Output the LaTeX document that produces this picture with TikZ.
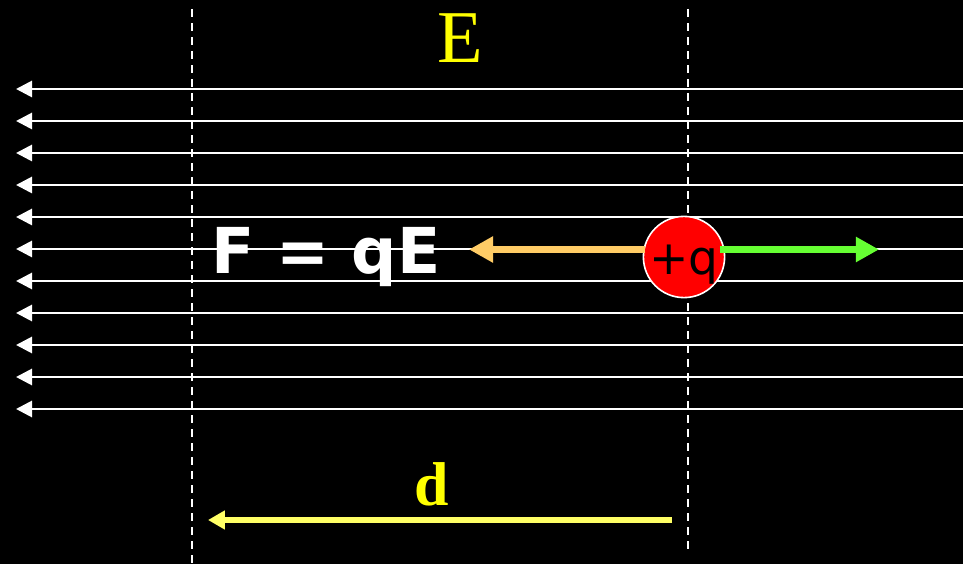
\documentclass[tikz,border=0pt]{standalone}
\usepackage{fontspec}
\setmainfont{Liberation Serif}
\setsansfont{DejaVu Sans}
\usetikzlibrary{positioning, arrows.meta}
\definecolor{Zuta}{HTML}{FFFF00}
\definecolor{Pomak}{HTML}{FFFF66}
\definecolor{Sila}{HTML}{FFCC66}
\definecolor{Zelena}{HTML}{66FF33}
\definecolor{Naboj}{HTML}{FF0000}
\tikzset{
  silnica/.style = {draw=white, line width=0.07cm,
                    -{Triangle[length=0.4cm, width=0.4cm]}},
  granica/.style = {draw=white, line width=0.05cm,
                    dash pattern=on 0.19cm off 0.16cm},
  sila/.style    = {draw=Sila, line width=0.17cm,
                    -{Triangle[length=0.6cm, width=0.62cm]}},
  reakcija/.style= {draw=Zelena, line width=0.16cm,
                    -{Triangle[length=0.58cm, width=0.6cm]}},
  pomak/.style   = {draw=Pomak, line width=0.125cm,
                    -{Triangle[length=0.42cm, width=0.45cm]}},
  naboj/.style   = {circle, fill=Naboj, draw=white, line width=0.04cm,
                    minimum size=2.03cm, inner sep=0pt},
  oznaka/.style  = {text=Zuta, inner sep=0pt, anchor=base},
}

\begin{document}
\begin{tikzpicture}[x=0.025cm, y=-0.025cm]
  \path[fill=black, use as bounding box] (0,0) rectangle (963,564);

  % linije polja
  \foreach \y [count=\i] in {89,121,...,409} {
    \coordinate (desno\i) at (963,\y);
    \coordinate (lijevo\i) at (16,\y);
    \draw[silnica] (desno\i) -- (lijevo\i);
  }

  % granice pomaka
  \coordinate (g1gore) at (192,9);
  \coordinate (g1dolje) at (192,564);
  \coordinate (g2gore) at (688,9);
  \coordinate (g2dolje) at (688,549);
  \draw[granica] (g1gore) -- (g1dolje);
  \draw[granica] (g2gore) -- (g2dolje);

  \node[naboj] (q) at (684,257) {};
  \node[text=black, inner sep=0pt, anchor=base,
        font=\sffamily\fontsize{33.5}{40}\selectfont]
        (qtekst) at (684,275) {+q};

  \coordinate (silavrh) at (469,249.5);
  \coordinate (zelvrh) at (879,249.5);
  \draw[sila] ([xshift=2]q.west |- silavrh) -- (silavrh);
  \draw[reakcija] ([xshift=-4]q.east |- zelvrh) -- (zelvrh);

  \node[text=white, inner sep=0pt, anchor=base,
        font=\sffamily\bfseries\fontsize{45}{50}\selectfont]
        (formula) at (326,274) {F = qE};

  \node[oznaka, font=\fontsize{53}{60}\selectfont] (polje) at (460,63) {E};

  \coordinate (dpocetak) at (672,520);
  \coordinate (dkraj) at (208,520);
  \draw[pomak] (dpocetak) -- (dkraj);
  \node[oznaka, font=\bfseries\fontsize{44}{50}\selectfont] (d) at (432,505) {d};
\end{tikzpicture}
\end{document}
